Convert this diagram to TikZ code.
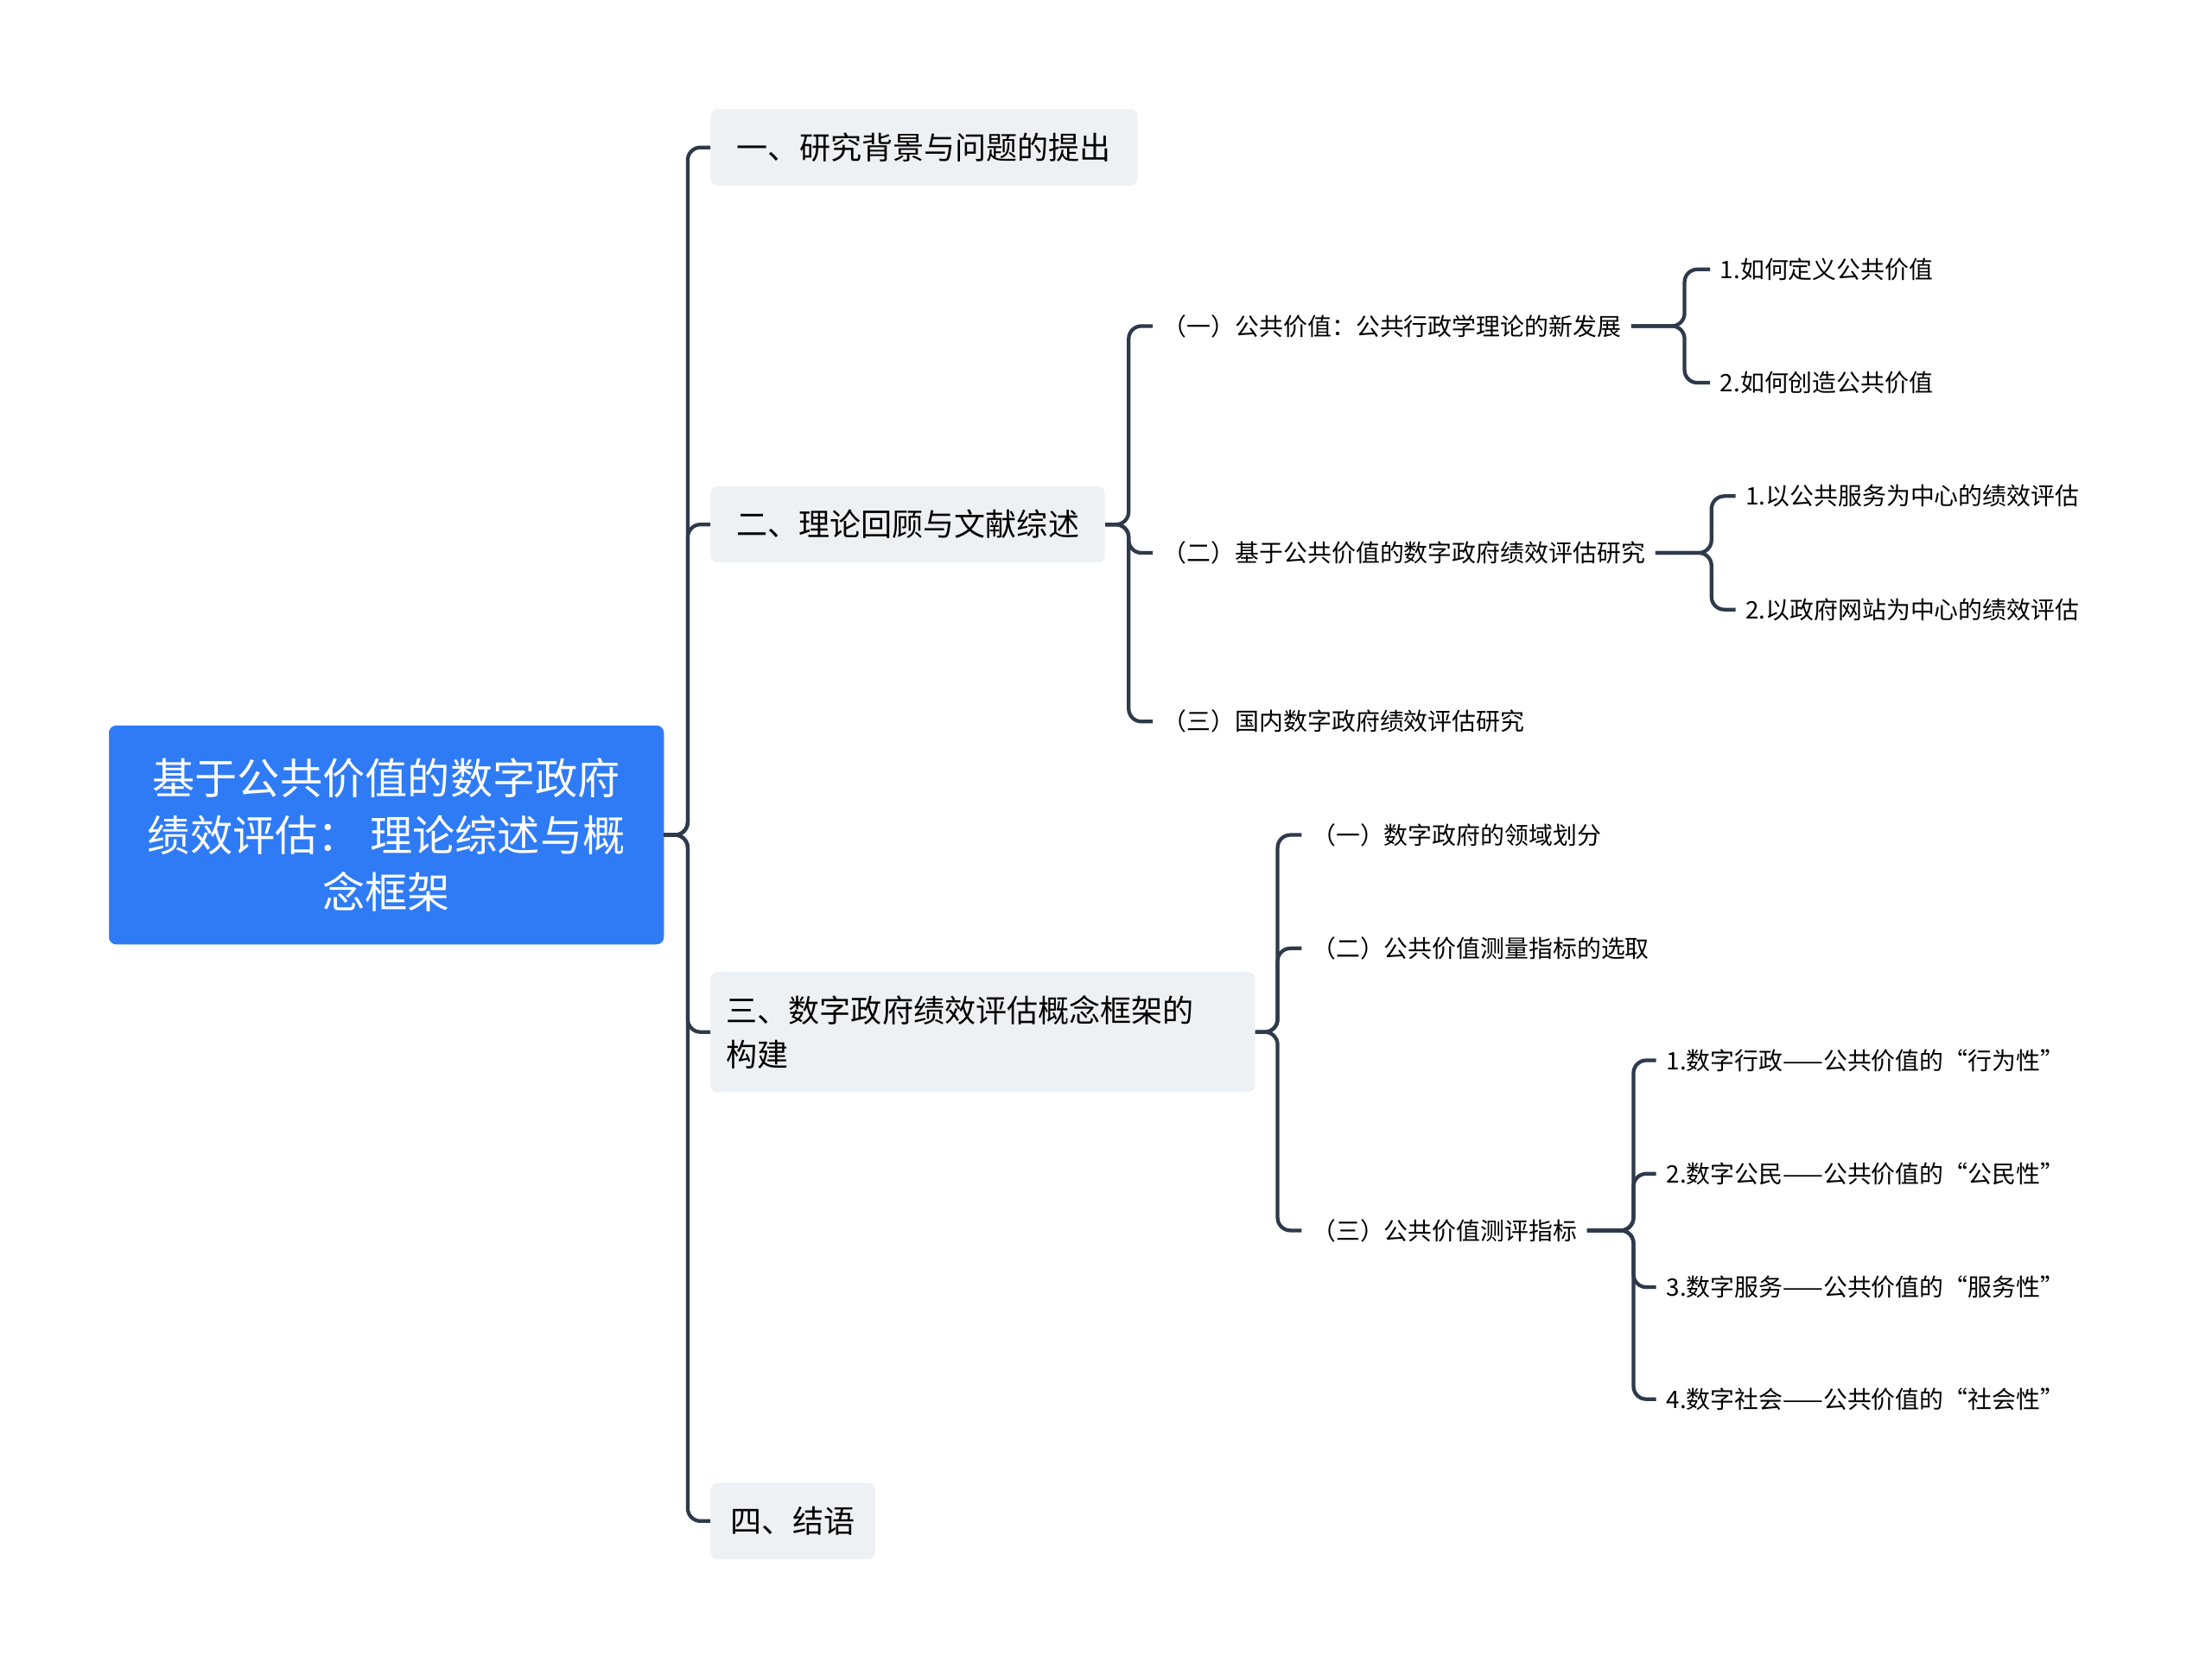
\documentclass[tikz,border=0pt]{standalone}
\usepackage{fontspec}
\setmainfont{Noto Sans CJK SC}
\begin{document}
\begin{tikzpicture}[x=1pt,y=-1pt,
  conn/.style={draw=linecol, line width=2.6pt, rounded corners=9pt},
  rootbox/.style={fill=rootblue, draw=rootblue, rounded corners=5pt, text=white, font=\fontsize{30}{40}\selectfont, align=center, minimum width=391pt, minimum height=154pt, inner sep=0pt},
  mainbox/.style={fill=mainbg, rounded corners=5pt, font=\fontsize{22}{31}\selectfont, anchor=west, align=left, inner xsep=11pt, minimum height=54pt},
  leaf/.style={font=\fontsize{17}{22}\selectfont, anchor=west, inner xsep=7pt, inner ysep=2pt}]
\definecolor{rootblue}{HTML}{2F7BF6}
\definecolor{mainbg}{HTML}{EEF1F4}
\definecolor{linecol}{HTML}{2E3A4B}
\useasboundingbox (0,0) rectangle (1560,1172);
\node[rootbox] (root) at (272.5,589) {基于公共价值的数字政府\\绩效评估： 理论综述与概\\念框架};
\node[mainbox, minimum width=301pt] (a) at (501,104) {一、研究背景与问题的提出};
\node[mainbox, minimum width=278pt] (b) at (501,370) {二、理论回顾与文献综述};
\node[mainbox, text width=362pt, minimum height=85pt] (c) at (501,728) {三、数字政府绩效评估概念框架的\\构建};
\node[mainbox, minimum width=116pt] (d) at (501,1073) {四、结语};
\foreach \n in {a,b,c,d} \draw[conn] (root.east) -- (485,589) |- (\n.west);

\node[leaf] (b1) at (813,230) {（一）公共价值：公共行政学理论的新发展};
\node[leaf] (b2) at (813,390) {（二）基于公共价值的数字政府绩效评估研究};
\node[leaf] (b3) at (813,509) {（三）国内数字政府绩效评估研究};
\foreach \n in {b1,b2,b3} \draw[conn] (b.east) -- (796,370) |- (\n.west);

\node[leaf] (b11) at (1206,190) {1.如何定义公共价值};
\node[leaf] (b12) at (1206,270) {2.如何创造公共价值};
\foreach \n in {b11,b12} \draw[conn] (b1.east) -- (1188,230) |- (\n.west);

\node[leaf] (b21) at (1224,350) {1.以公共服务为中心的绩效评估};
\node[leaf] (b22) at (1224,430) {2.以政府网站为中心的绩效评估};
\foreach \n in {b21,b22} \draw[conn] (b2.east) -- (1207,390) |- (\n.west);

\node[leaf] (c1) at (918,589) {（一）数字政府的领域划分};
\node[leaf] (c2) at (918,669) {（二）公共价值测量指标的选取};
\node[leaf] (c3) at (918,868) {（三）公共价值测评指标};
\foreach \n in {c1,c2,c3} \draw[conn] (c.east) -- (901,728) |- (\n.west);

\node[leaf] (c31) at (1168,748) {1.数字行政——公共价值的“行为性”};
\node[leaf] (c32) at (1168,828) {2.数字公民——公共价值的“公民性”};
\node[leaf] (c33) at (1168,908) {3.数字服务——公共价值的“服务性”};
\node[leaf] (c34) at (1168,987) {4.数字社会——公共价值的“社会性”};
\foreach \n in {c31,c32,c33,c34} \draw[conn] (c3.east) -- (1152,868) |- (\n.west);
\end{tikzpicture}
\end{document}
